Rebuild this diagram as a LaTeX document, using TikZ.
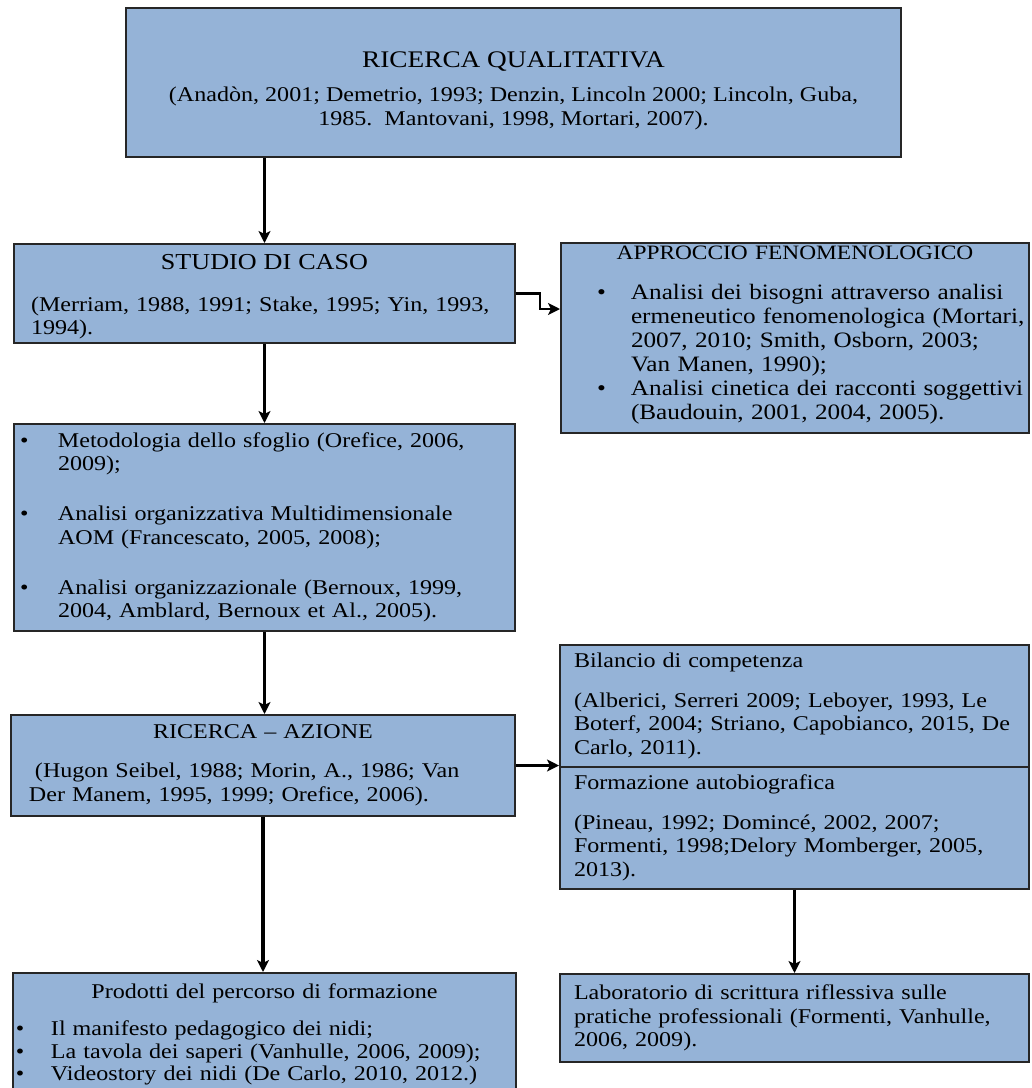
\documentclass[tikz,border=0pt]{standalone}
\usepackage{fontspec}
\setmainfont{Liberation Serif}[FakeStretch=1.146]
\usepackage{tikz}
\usetikzlibrary{calc,shapes.multipart,arrows.meta}

\definecolor{boxblue}{RGB}{149,179,215}
\newcommand{\bigfont}{\fontsize{11.4pt}{11.75pt}\selectfont}
\newcommand{\bul}[1]{\makebox[#1][l]{\textbullet}}
\newcommand{\hang}[1]{\hspace*{#1}}
\hyphenpenalty=10000

\begin{document}
\begin{tikzpicture}[x=0.5pt, y=-0.5pt, box/.style={draw=black!85, line width=1pt, fill=boxblue, anchor=north west, inner ysep=0pt, font=\fontsize{10.5pt}{11.75pt}\selectfont}, link/.style={->, line width=1.75pt}, thinlink/.style={->, line width=1.1pt}, >={Stealth[length=6pt,width=6pt,inset=1.5pt]}]
            \useasboundingbox (0,0) rectangle (1032,1088);
            \clip (0,0) rectangle (1032,1088);
            % Nodes
            \node[box, minimum width=387.5pt, minimum height=74.5pt, align=center] (qual) at (125,7) {\rule{0pt}{16pt}{\fontsize{11.9pt}{11.75pt}\selectfont RICERCA QUALITATIVA}\\[5.25pt]
                (Anadòn, 2001; Demetrio, 1993; Denzin, Lincoln 2000; Lincoln, Guba,\\
                1985.\ \ Mantovani, 1998, Mortari, 2007).};
            \node[box, minimum width=250.5pt, minimum height=49.5pt, text width=233.5pt, inner xsep=8.5pt, align=left] (studio) at (13,243) {\makebox[\hsize]{\rule{0pt}{10.5pt}\bigfont STUDIO DI CASO}\\[9.25pt]
                (Merriam, 1988, 1991; Stake, 1995; Yin, 1993,\\
                1994).};
            \node[box, minimum width=234pt, minimum height=95pt, text width=230pt, inner xsep=2pt, align=left, font=\fontsize{11pt}{12pt}\selectfont] (feno) at (560,242) {\makebox[\hsize]{\fontsize{10.2pt}{12pt}\selectfont APPROCCIO FENOMENOLOGICO}\\[8pt]
                \hang{16pt}\bul{17pt}Analisi dei bisogni attraverso analisi\\
                \hang{33pt}ermeneutico fenomenologica (Mortari,\\
                \hang{33pt}2007, 2010; Smith, Osborn, 2003;\\
                \hang{33pt}Van Manen, 1990);\\
                \hang{16pt}\bul{17pt}Analisi cinetica dei racconti soggettivi\\
                \hang{33pt}(Baudouin, 2001, 2004, 2005).\rule[-5.4pt]{0pt}{5.4pt}};
            \node[box, minimum width=250.5pt, minimum height=103.5pt, text width=244.5pt, inner xsep=3pt, align=left] (metodo) at (13,423) {\bul{19pt}Metodologia dello sfoglio (Orefice, 2006,\\
                \hang{19pt}2009);\\[13.25pt]
                \bul{19pt}Analisi organizzativa Multidimensionale\\
                \hang{19pt}AOM (Francescato, 2005, 2008);\\[13.25pt]
                \bul{19pt}Analisi organizzazionale (Bernoux, 1999,\\
                \hang{19pt}2004, Amblard, Bernoux et Al., 2005).};
            \node[box, minimum width=252pt, minimum height=50.5pt, text width=234pt, inner xsep=9pt, align=left] (azione) at (10,714) {\makebox[\hsize]{RICERCA – AZIONE}\\[7.75pt]
                \hang{3pt}(Hugon Seibel, 1988; Morin, A., 1986; Van\\
                Der Manem, 1995, 1999; Orefice, 2006).};
            \node[box, rectangle split, rectangle split parts=2, minimum width=234.5pt, text width=220.5pt, inner xsep=7pt, inner ysep=3.4pt, align=left] (bil) at (559,644) {Bilancio di competenza\\[8.25pt]
                (Alberici, Serreri 2009; Leboyer, 1993, Le\\
                Boterf, 2004; Striano, Capobianco, 2015, De\\
                Carlo, 2011).
                \nodepart{two}Formazione autobiografica\\[8.25pt]
                (Pineau, 1992; Domincé, 2002, 2007;\\
                Formenti, 1998;Delory Momberger, 2005,\\
                2013).};
            \node[box, minimum width=234.5pt, minimum height=44pt, text width=220.5pt, inner xsep=7pt, align=left] (lab) at (559,973) {Laboratorio di scrittura riflessiva sulle\\
                pratiche professionali (Formenti, Vanhulle,\\
                2006, 2009).};
            \node[box, minimum width=251.5pt, minimum height=61.2pt, text width=248.5pt, inner xsep=1.5pt, align=left] (prod) at (12,972) {\makebox[\hsize]{Prodotti del percorso di formazione}\\[7pt]
                \bul{17.5pt}Il manifesto pedagogico dei nidi;\\[-0.5pt]
                \bul{17.5pt}La tavola dei saperi (Vanhulle, 2006, 2009);\\[-0.5pt]
                \bul{17.5pt}Videostory dei nidi (De Carlo, 2010, 2012.)};
            % Frecce
            \draw[link] (qual.south -| studio.north) -- (studio.north);
            \draw[link] (studio.south) -- (metodo.north);
            \draw[thinlink] (studio.east) -- ++(24,0) |- ($(feno.north west)+(0,67)$);
            \draw[thinlink] (metodo.south) -- (metodo.south |- azione.north);
            \draw[thinlink] (azione.east) -- (azione.east -| bil.west);
            \draw[link] (azione.south) -- (azione.south |- prod.north);
            \draw[link] (bil.south) -- (lab.north);
        \end{tikzpicture}
\end{document}
